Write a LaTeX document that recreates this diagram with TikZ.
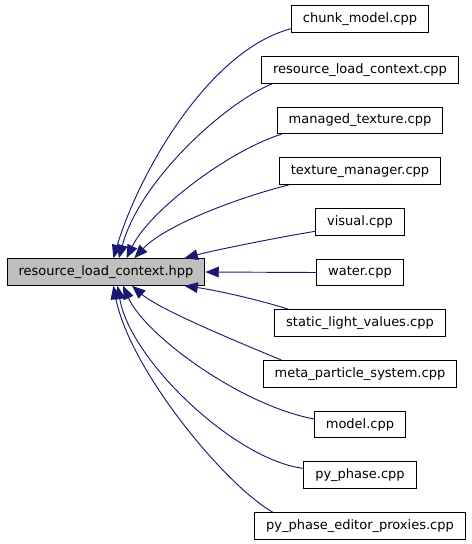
\documentclass[tikz,border=0pt]{standalone}
\usepackage{fontspec}
\setmainfont{DejaVu Sans}
\usetikzlibrary{arrows.meta}
\definecolor{deplink}{HTML}{191970}
\definecolor{hdrfill}{HTML}{BFBFBF}
\tikzset{
  filebox/.style={draw=black, line width=0.75pt, fill=white,
                  minimum height=20pt, inner xsep=8.6pt, inner ysep=2pt,
                  font=\fontsize{9.75}{11}\selectfont},
  mainbox/.style={filebox, fill=hdrfill},
  dep/.style={draw=deplink, line width=0.7pt,
              -{Triangle[length=10pt,width=8pt]}},
}

\begin{document}
\begin{tikzpicture}[x=0.75pt, y=-0.75pt]
  \useasboundingbox (0,0) rectangle (472,544);

  % --- the header everything includes ---
  \node[mainbox] (main) at (106,272) {resource\_load\_context.hpp};

  % --- the eleven .cpp files, one column on the right ---
  \foreach \i/\n/\t in {0/chunk/chunk\_model.cpp,
                        1/rlcpp/resource\_load\_context.cpp,
                        2/mtex/managed\_texture.cpp,
                        3/texmgr/texture\_manager.cpp,
                        4/visual/visual.cpp,
                        5/water/water.cpp,
                        6/slv/static\_light\_values.cpp,
                        7/mps/meta\_particle\_system.cpp,
                        8/model/model.cpp,
                        9/pyph/py\_phase.cpp,
                        10/pypep/py\_phase\_editor\_proxies.cpp}{
    \pgfmathsetmacro\yy{19 + \i*50.7}
    \node[filebox] (\n) at (360,\yy) {\t};
  }

  % --- include edges, arrow at the header ---
  \draw[dep] (chunk.188)  .. controls (210,50)  and (140,170) .. (main.62);
  \draw[dep] (rlcpp.189)  .. controls (225,103) and (140,180) .. (main.47);
  \draw[dep] (mtex.190)   .. controls (230,150) and (150,210) .. (main.34);
  \draw[dep] (texmgr.191) .. controls (240,197) and (165,225) .. (main.26);
  \draw[dep] (visual.192) .. controls (280,237) and (215,250) .. (main.10);
  \draw[dep] (water.west) -- (main.east);
  \draw[dep] (slv.169)    .. controls (260,300) and (215,290) .. (main.-10);
  \draw[dep] (mps.170)    .. controls (245,345) and (160,310) .. (main.-28);
  \draw[dep] (model.173)  .. controls (240,405) and (145,335) .. (main.-39);
  \draw[dep] (pyph.173)   .. controls (235,460) and (130,360) .. (main.-50);
  \draw[dep] (pypep.171)  .. controls (225,485) and (130,370) .. (main.-62);
\end{tikzpicture}
\end{document}
